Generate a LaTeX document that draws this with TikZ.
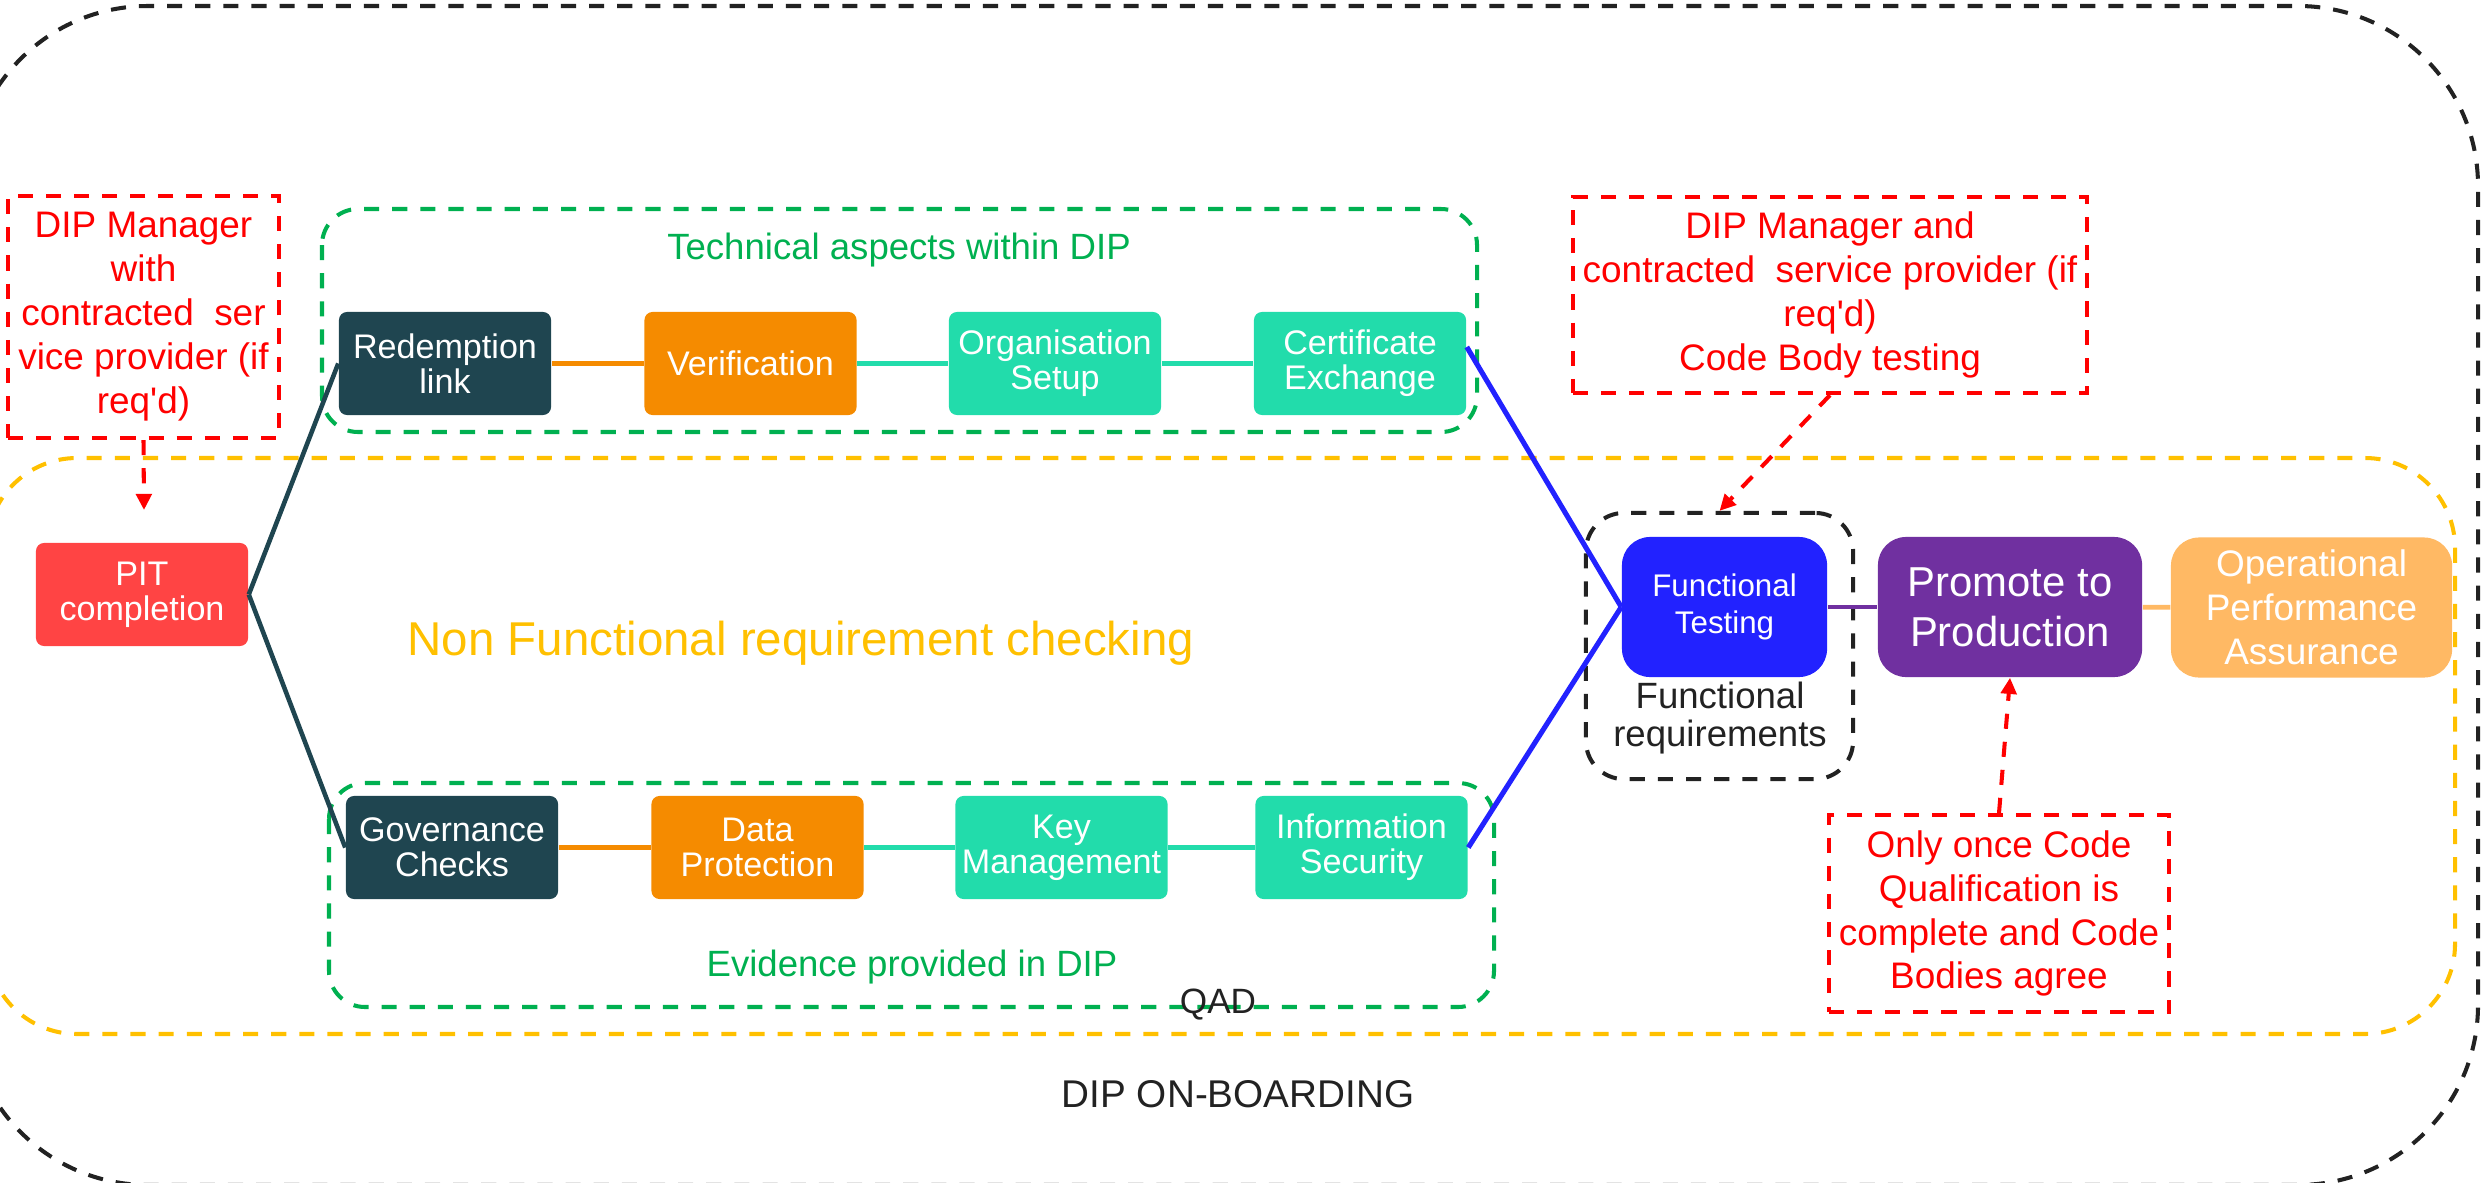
\documentclass[tikz,border=0pt]{standalone}
\usepackage{fontspec}
\setmainfont{Liberation Sans}
\usepackage{tikz}
\usetikzlibrary{arrows.meta}
\definecolor{notered}{HTML}{FF0000}
\definecolor{pitred}{HTML}{FF4444}
\definecolor{darkteal}{HTML}{1F4550}
\definecolor{techorange}{HTML}{F58B00}
\definecolor{mint}{HTML}{22DCAB}
\definecolor{testblue}{HTML}{2222FF}
\definecolor{prodpurple}{HTML}{7030A0}
\definecolor{opsorange}{HTML}{FFB964}
\definecolor{groupgreen}{HTML}{00B050}
\definecolor{groupyellow}{HTML}{FFC000}
\definecolor{groupblack}{HTML}{222222}
\tikzset{
  dashline/.style={line width=1.15pt, dash pattern=on 4.3pt off 3.7pt},
  box/.style={rounded corners=2.3pt, minimum width=2.12cm, minimum height=1.03cm,
    inner sep=0pt, align=center, text=white, font=\fontsize{9.7}{10}\selectfont},
  bigbox/.style={box, rounded corners=8pt, minimum height=1.4cm},
  note/.style={dashline, draw=notered, text=notered, align=center, inner sep=0pt,
    font=\fontsize{10.5}{12.5}\selectfont},
  notearrow/.style={dashline, draw=notered, -{Triangle[length=4.6pt,width=4.4pt]}},
  link/.style={line width=1.3pt},
}

\begin{document}
\begin{tikzpicture}[x=0.01cm, y=-0.01cm]
    \useasboundingbox (0,0) rectangle (2483,1182);

    \draw[dashline, groupblack, rounded corners=1.8cm] (-32,6) rectangle (2478,1185);
    \draw[dashline, groupyellow, rounded corners=0.9cm] (-13,458) rectangle (2455,1034);
    \draw[dashline, groupgreen, rounded corners=0.36cm] (322,209) rectangle (1477,432);
    \draw[dashline, groupgreen, rounded corners=0.36cm] (329,783) rectangle (1494,1007);
    \node[dashline, draw=groupblack, rounded corners=0.38cm, minimum width=2.67cm,
        minimum height=2.66cm] (funcgroup) at (1719.5,646) {};

    \node[text=groupgreen, font=\fontsize{10.4}{12}\selectfont] (techlabel) at (899,250) {Technical aspects within DIP};
    \node[text=groupgreen, font=\fontsize{10.4}{12}\selectfont] (evidlabel) at (912,967) {Evidence provided in DIP};
    \node[text=groupyellow, font=\fontsize{13.5}{15}\selectfont, anchor=base west, inner sep=0pt] (nfrlabel) at (407,655) {Non Functional requirement checking};
    \node[text=groupblack, font=\fontsize{10}{12}\selectfont] (qadlabel) at (1218,1005) {QAD};
    \node[text=groupblack, font=\fontsize{11}{13}\selectfont] (onboardlabel) at (1238,1094) {DIP ON-BOARDING};

    \node[note, minimum width=2.71cm, minimum height=2.42cm] (notepit) at (143.5,317)
        {DIP Manager\\with\\contracted~ ser\\vice provider (if\\req\textquotesingle d)};
    \node[note, minimum width=5.14cm, minimum height=1.96cm] (notetest) at (1830,295)
        {DIP Manager and\\contracted~ service provider (if\\req\textquotesingle d)\\Code Body testing};
    \node[note, minimum width=3.40cm, minimum height=1.97cm] (notepromote) at (1999,913.5)
        {Only once Code\\Qualification is\\complete and Code\\Bodies agree};

    \node[box, fill=pitred] (pit) at (142,594.5) {PIT\\completion};

    \node[box, fill=darkteal] (redeem) at (445,363.5) {Redemption\\link};
    \node[box, fill=techorange] (verify) at (750.5,363.5) {Verification};
    \node[box, fill=mint] (orgsetup) at (1055,363.5) {Organisation\\Setup};
    \node[box, fill=mint] (certex) at (1360,363.5) {Certificate\\Exchange};

    \node[box, fill=darkteal] (govern) at (452,847.5) {Governance\\Checks};
    \node[box, fill=techorange] (dataprot) at (757.5,847.5) {Data\\Protection};
    \node[box, fill=mint] (keymgmt) at (1061.5,847.5) {Key\\Management};
    \node[box, fill=mint] (infosec) at (1361.5,847.5) {Information\\Security};

    \node[bigbox, fill=testblue, minimum width=2.05cm, font=\fontsize{8.9}{10.5}\selectfont] (functest) at (1724.5,607) {Functional\\Testing};
    \node[bigbox, fill=prodpurple, minimum width=2.64cm, font=\fontsize{11.9}{14.2}\selectfont] (promote) at (2010,607) {Promote to\\Production};
    \node[bigbox, fill=opsorange, minimum width=2.81cm, font=\fontsize{10.5}{12.5}\selectfont] (opassure) at (2311.5,607.5) {Operational\\Performance\\Assurance};
    \node[text=groupblack, align=center, font=\fontsize{10.4}{10.8}\selectfont] (funcreq) at (1720,718) {Functional\\requirements};

    \coordinate (pittip) at (144,510);

    \draw[link, darkteal] (pit.east) -- (redeem.west);
    \draw[link, darkteal] (pit.east) -- (govern.west);
    \draw[link, techorange] (redeem) -- (verify);
    \draw[link, mint] (verify) -- (orgsetup);
    \draw[link, mint] (orgsetup) -- (certex);
    \draw[link, techorange] (govern) -- (dataprot);
    \draw[link, mint] (dataprot) -- (keymgmt);
    \draw[link, mint] (keymgmt) -- (infosec);
    \draw[link, testblue, line width=1.45pt] ([yshift=0.165cm]certex.east) -- (functest.west);
    \draw[link, testblue, line width=1.45pt] (infosec.east) -- (functest.west);
    \draw[link, prodpurple] (functest) -- (promote);
    \draw[link, opsorange] (promote) -- (opassure);

    \draw[notearrow] (notepit.south) -- (pittip);
    \draw[notearrow] (notetest.south) -- (funcgroup.north);
    \draw[notearrow] (notepromote.north) -- (promote.south);
\end{tikzpicture}
\end{document}
